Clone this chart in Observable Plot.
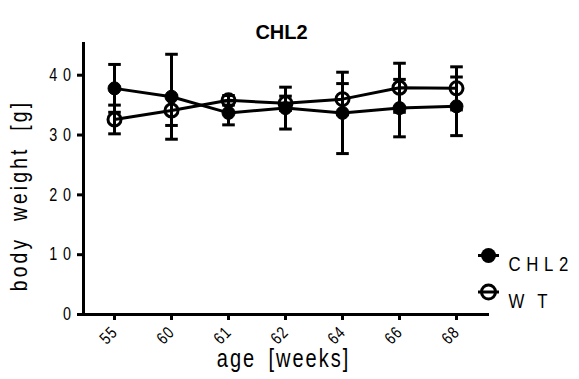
<!DOCTYPE html>
<html>
<head>
<meta charset="utf-8">
<script src="https://cdn.jsdelivr.net/npm/d3@7"></script>
<script src="https://cdn.jsdelivr.net/npm/@observablehq/plot@0.6"></script>
<style>
  html, body { margin: 0; padding: 0; background: #fff; }
  #chart svg { display: block; }
  g[aria-label="y-axis tick label"] text { letter-spacing: 7px; }
  g[aria-label="x-axis tick label"] text { letter-spacing: 1px; }
</style>
</head>
<body>
<div id="chart"></div>
<script>
const weeks = ["55", "60", "61", "62", "64", "66", "68"];
const chl2Mean = [37.8, 36.4, 33.7, 34.5, 33.7, 34.5, 34.8];
const chl2SD   = [4.0, 7.1, 2.0, 3.5, 6.8, 4.8, 4.9];
const wtMean   = [32.6, 34.1, 35.8, 35.3, 36.0, 37.9, 37.8];
const wtSD     = [2.4, 2.5, 0.8, 1.2, 2.6, 4.1, 3.6];
const yTicks = [0, 10, 20, 30, 40];
const seriesNames = ["CHL2", "WT"];
const titleText = "CHL2";
const xTitle = "age [weeks]";
const yTitle = "body weight [g]";

const rows = [];
weeks.forEach((w, i) => {
  rows.push({week: w, group: seriesNames[0], mean: chl2Mean[i], sd: chl2SD[i]});
  rows.push({week: w, group: seriesNames[1], mean: wtMean[i], sd: wtSD[i]});
});
const chl2Rows = rows.filter(d => d.group === seriesNames[0]);
const wtRows = rows.filter(d => d.group === seriesNames[1]);

const capSymbol = {draw(ctx) { ctx.moveTo(-6.3, 0); ctx.lineTo(6.3, 0); }};
const stubSymbol = {draw(ctx) { ctx.moveTo(-10.5, 0); ctx.lineTo(10.5, 0); }};

const font = "'Liberation Sans', Arial, sans-serif";

const chart = Plot.plot({
  width: 579,
  height: 379,
  marginLeft: 83,
  marginRight: 92,
  marginTop: 43,
  marginBottom: 65,
  style: {fontFamily: font, color: "black", background: "white"},
  x: {type: "point", domain: weeks, padding: 0.5},
  y: {domain: [0, 45.3]},
  marks: [
    Plot.frame({anchor: "left", stroke: "black", strokeWidth: 3}),
    Plot.frame({anchor: "bottom", stroke: "black", strokeWidth: 3, insetLeft: -4}),
    Plot.axisY({ticks: yTicks, tickSize: 6, tickPadding: 1, fontSize: 18, label: null, strokeWidth: 3}),
    Plot.axisX({tickSize: 6, tickPadding: 9, tickRotate: -45, fontSize: 17, label: null, strokeWidth: 3}),
    Plot.ruleX(rows, {x: "week", y1: d => d.mean - d.sd, y2: d => d.mean + d.sd, strokeWidth: 3}),
    Plot.dot(rows, {x: "week", y: d => d.mean + d.sd, symbol: capSymbol, stroke: "black", fill: "none", strokeWidth: 3}),
    Plot.dot(rows, {x: "week", y: d => d.mean - d.sd, symbol: capSymbol, stroke: "black", fill: "none", strokeWidth: 3}),
    Plot.line(rows, {x: "week", y: "mean", z: "group", stroke: "black", strokeWidth: 3}),
    Plot.dot(chl2Rows, {x: "week", y: "mean", r: 6.5, fill: "black", stroke: "black", strokeWidth: 1}),
    Plot.dot(wtRows, {x: "week", y: "mean", r: 6.5, fill: "none", stroke: "black", strokeWidth: 3}),
    // title and axis titles
    Plot.text([titleText], {frameAnchor: "top", dx: -4, dy: -18.5, fontSize: 20, fontWeight: "bold", fill: "black", ariaLabel: "title"}),
    Plot.text([xTitle], {frameAnchor: "bottom", textAnchor: "middle", dx: -2, dy: 52, fontSize: 25, fill: "black", ariaLabel: "xtitle"}),
    Plot.text([yTitle], {frameAnchor: "left", textAnchor: "middle", dx: -64, dy: 16.5, rotate: -90, fontSize: 24, fill: "black", ariaLabel: "ytitle"}),
    // legend
    Plot.dot([seriesNames[0]], {frameAnchor: "top-left", dx: 405, dy: 212, symbol: stubSymbol, stroke: "black", strokeWidth: 3}),
    Plot.dot([seriesNames[0]], {frameAnchor: "top-left", dx: 405, dy: 212, r: 7.5, fill: "black", stroke: "black", strokeWidth: 0}),
    Plot.text([seriesNames[0]], {frameAnchor: "top-left", dx: 425, dy: 213, text: d => d, textAnchor: "start", fontSize: 21, fill: "black", ariaLabel: "leg0"}),
    Plot.dot([seriesNames[1]], {frameAnchor: "top-left", dx: 405, dy: 248.5, symbol: stubSymbol, stroke: "black", strokeWidth: 3, r: 1}),
    Plot.dot([seriesNames[1]], {frameAnchor: "top-left", dx: 405, dy: 248.5, r: 7, fill: "none", stroke: "black", strokeWidth: 3}),
    Plot.text([seriesNames[1]], {frameAnchor: "top-left", dx: 425, dy: 249.5, text: d => d, textAnchor: "start", fontSize: 21, fill: "black", ariaLabel: "leg1"})
  ]
});

// spacing of the reference's widely tracked, narrow typeface
const spacing = {
  xtitle: {letterSpacing: "2.5px", wordSpacing: "6px"},
  ytitle: {letterSpacing: "4px", wordSpacing: "9px"},
  leg0: {letterSpacing: "7px"},
  leg1: {letterSpacing: "16px"}
};
function findLabel(t) {
  let el = t;
  while (el && el !== chart) {
    const a = el.getAttribute && el.getAttribute("aria-label");
    if (a && (a === "title" || spacing[a])) return a;
    el = el.parentNode;
  }
  const txt = t.textContent;
  const bold = t.closest("[font-weight]");
  if (txt === titleText && bold) return "title";
  if (txt === xTitle) return "xtitle";
  if (txt === yTitle) return "ytitle";
  if (txt === seriesNames[0]) return "leg0";
  if (txt === seriesNames[1]) return "leg1";
  return null;
}
chart.querySelectorAll("text").forEach(t => {
  const label = findLabel(t);
  if (label === "title") return;
  if (label && spacing[label]) {
    for (const [k, v] of Object.entries(spacing[label])) t.style[k] = v;
  }
  const tr = t.getAttribute("transform") || "";
  t.setAttribute("transform", `${tr} scale(0.8,1)`);
});

document.getElementById("chart").appendChild(chart);
</script>
</body>
</html>
